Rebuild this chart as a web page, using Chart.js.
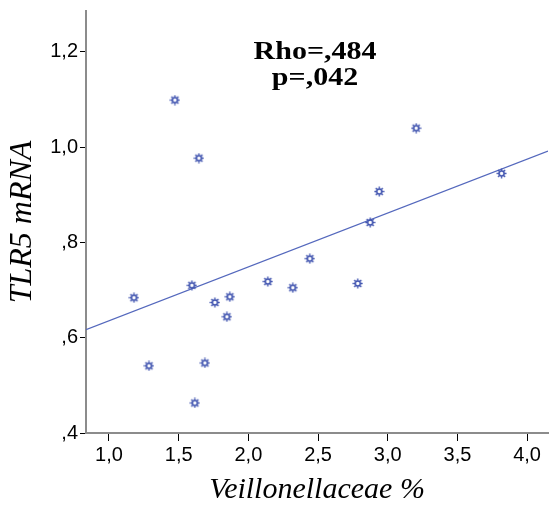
<!DOCTYPE html>
<html>
<head>
<meta charset="utf-8">
<script src="https://cdn.jsdelivr.net/npm/chart.js@4.4.0/dist/chart.umd.min.js"></script>
<style>
  html, body { margin: 0; padding: 0; background: #fff; }
  #wrap { width: 549px; height: 511px; }
</style>
</head>
<body>
<div id="wrap"><canvas id="chart"></canvas></div>
<script>
// values
const veillonellaceae = [1.473, 1.645, 3.204, 2.939, 2.874, 3.817, 1.179, 1.595, 1.760, 1.867, 1.846, 2.140, 2.319, 2.441, 2.785, 1.287, 1.688, 1.616];
const tlr5 = [1.099, 0.977, 1.040, 0.907, 0.842, 0.945, 0.684, 0.710, 0.674, 0.686, 0.644, 0.718, 0.705, 0.766, 0.714, 0.541, 0.547, 0.463];
const fitX = [0.835, 4.15];
const fitY = [0.617, 0.992];
const xTicks = [1.0, 1.5, 2.0, 2.5, 3.0, 3.5, 4.0];
const yTicks = [0.4, 0.6, 0.8, 1.0, 1.2];
const statLines = ['Rho=,484', 'p=,042'];

const markerColor = '#4356b0';

// little gear-like marker
const marker = document.createElement('canvas');
marker.width = 11;
marker.height = 11;
(function () {
  const c = marker.getContext('2d');
  c.strokeStyle = markerColor;
  c.lineWidth = 1.6;
  c.beginPath();
  c.arc(5.5, 5.5, 2.5, 0, Math.PI * 2);
  c.stroke();
  c.lineWidth = 1.4;
  for (let i = 0; i < 8; i++) {
    const a = i * Math.PI / 4;
    c.beginPath();
    c.moveTo(5.5 + Math.cos(a) * 2.5, 5.5 + Math.sin(a) * 2.5);
    c.lineTo(5.5 + Math.cos(a) * 5, 5.5 + Math.sin(a) * 5);
    c.stroke();
  }
})();

const fmt = (v) => {
  const s = v.toFixed(1).replace('.', ',');
  return s.startsWith('0') ? s.slice(1) : s;
};

// Rho / p annotation, slightly wide like the original
const statsText = {
  id: 'statsText',
  afterDraw(chart) {
    const ctx = chart.ctx;
    ctx.save();
    ctx.fillStyle = '#000';
    ctx.font = 'bold 25px "Liberation Serif"';
    ctx.textAlign = 'center';
    ctx.textBaseline = 'alphabetic';
    statLines.forEach((t, i) => {
      ctx.save();
      ctx.translate(315, 59 + i * 26);
      ctx.scale(1.2, 1);
      ctx.fillText(t, 0, 0);
      ctx.restore();
    });
    ctx.restore();
  }
};

new Chart(document.getElementById('chart'), {
  type: 'scatter',
  data: {
    datasets: [
      {
        data: veillonellaceae.map((x, i) => ({ x: x, y: tlr5[i] })),
        pointStyle: marker,
        pointRadius: 5,
        pointHoverRadius: 5,
      },
      {
        type: 'line',
        data: fitX.map((x, i) => ({ x: x, y: fitY[i] })),
        borderColor: '#5468bd',
        borderWidth: 1.2,
        pointRadius: 0,
        fill: false,
      },
    ],
  },
  options: {
    responsive: true,
    maintainAspectRatio: false,
    animation: false,
    layout: { autoPadding: false, padding: { top: 11, right: 1, left: 0, bottom: 0 } },
    plugins: {
      legend: { display: false },
      tooltip: { enabled: false },
    },
    scales: {
      x: {
        type: 'linear',
        min: fitX[0],
        max: fitX[1],
        afterBuildTicks: (scale) => { scale.ticks = xTicks.map((v) => ({ value: v })); },
        afterFit: (scale) => {
          scale.height = 78;
          scale.paddingLeft = 0;
          scale.paddingRight = 0;
        },
        grid: { drawOnChartArea: false, drawTicks: true, tickLength: 8, tickColor: '#000' },
        border: { display: true, color: '#8c8c8c', width: 2 },
        ticks: {
          color: '#000',
          padding: 2,
          font: { family: '"Liberation Sans", Arial', size: 20 },
          maxRotation: 0,
          callback: (v) => fmt(v),
        },
        title: {
          display: true,
          text: 'Veillonellaceae %',
          color: '#000',
          font: { family: '"Liberation Serif"', style: 'italic', size: 30 },
          padding: { top: 0, bottom: 3 },
        },
      },
      y: {
        type: 'linear',
        min: 0.4,
        max: 1.286,
        afterBuildTicks: (scale) => { scale.ticks = yTicks.map((v) => ({ value: v })); },
        afterFit: (scale) => {
          scale.width = 86;
          scale.paddingTop = 0;
          scale.paddingBottom = 0;
        },
        grid: { drawOnChartArea: false, drawTicks: true, tickLength: 6, tickColor: '#000' },
        border: { display: true, color: '#8c8c8c', width: 2 },
        ticks: {
          color: '#000',
          padding: 2,
          font: { family: '"Liberation Sans", Arial', size: 20 },
          callback: (v) => fmt(v),
        },
        title: {
          display: true,
          text: 'TLR5 mRNA',
          color: '#000',
          font: { family: '"Liberation Serif"', style: 'italic', size: 32 },
          padding: { top: 3, bottom: 0 },
        },
      },
    },
  },
  plugins: [statsText],
});
</script>
</body>
</html>
